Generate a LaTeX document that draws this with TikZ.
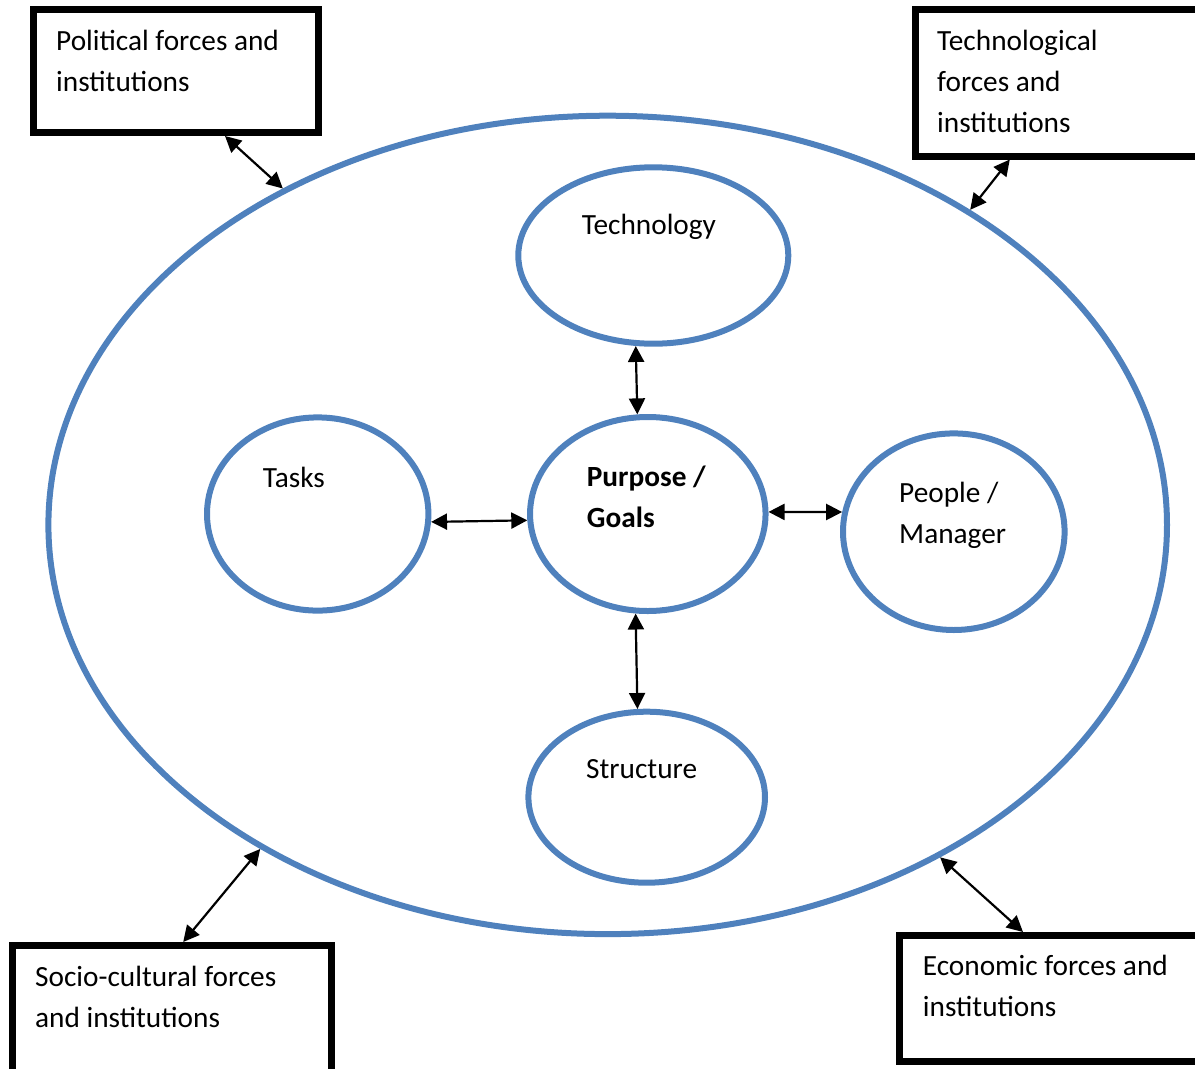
\documentclass[tikz,border=0pt]{standalone}
\usepackage{fontspec}
\setmainfont{Carlito}
\usetikzlibrary{arrows.meta,shapes.geometric}
\definecolor{ringblue}{RGB}{79,129,189}

\tikzset{
  ring/.style={ellipse, draw=ringblue, line width=6pt, inner sep=0pt},
  forcebox/.style={rectangle, draw, line width=7pt, inner sep=0pt},
  % multi-line texts sit on the baseline of their last line
  txt/.style={font=\fontsize{29.3}{41}\selectfont, inner sep=0pt, align=left, anchor=base west},
  link/.style={{Triangle[length=16pt,width=16pt]}-{Triangle[length=16pt,width=16pt]}, line width=2.2pt}
}

\begin{document}
\begin{tikzpicture}[x=1pt,y=-1pt,line join=miter]
  \useasboundingbox (0,0) rectangle (1195,1069);
  \clip (0,0) rectangle (1195,1069);

  % the environment and the inner elements
  \node[ring, minimum width=1118.6pt, minimum height=818.4pt] (env) at (607.7,524.9) {};
  \node[ring, minimum width=270pt, minimum height=176.4pt] (tech) at (653.3,255.5) {};
  \node[ring, minimum width=221.4pt, minimum height=193.2pt] (tasks) at (317.7,514) {};
  \node[ring, minimum width=235.5pt, minimum height=194pt] (goal) at (647.8,514) {};
  \node[ring, minimum width=221.6pt, minimum height=196.6pt] (people) at (953.8,531.7) {};
  \node[ring, minimum width=236.6pt, minimum height=171pt] (struct) at (646.7,797.2) {};

  \node[txt] (techtxt) at (581.7,234.3) {Technology};
  \node[txt] (taskstxt) at (262.7,487.3) {Tasks};
  \node[txt, font=\fontsize{29.3}{41}\selectfont\bfseries] (goaltxt) at (586.7,527.2) {Purpose /\\Goals};
  \node[txt] (peopletxt) at (899,543.8) {People /\\Manager};
  \node[txt] (structtxt) at (586,778.3) {Structure};

  % outside forces
  \node[forcebox, minimum width=285pt, minimum height=123pt] (pol) at (176,71) {};
  \node[forcebox, minimum width=314.7pt, minimum height=146.5pt] (techbox) at (1072.65,82.75) {};
  \node[forcebox, minimum width=318.8pt, minimum height=154.5pt] (socio) at (172.1,1022.75) {};
  \node[forcebox, minimum width=331pt, minimum height=126.2pt] (econ) at (1064.5,998.6) {};

  \node[txt] (poltxt) at (56,91) {Political forces and\\institutions};
  \node[txt] (techboxtxt) at (937,132) {Technological\\forces and\\institutions};
  \node[txt] (sociotxt) at (35,1027.5) {Socio-cultural forces\\and institutions};
  \node[txt] (econtxt) at (922.7,1016.5) {Economic forces and\\institutions};

  % two-way links
  \draw[link] (tech.259.7) -- (goal.96.4);
  \draw[link] (tasks.356.5) -- (goal.183.3);
  \draw[link] (goal.1.1) -- (people.170);
  \draw[link] (goal.263.5) -- (struct.96.7);

  \draw[link] ([xshift=195pt]pol.south west) -- (env.134.4);
  \draw[link] ([xshift=98pt]techbox.south west) -- (env.41.35);
  \draw[link] ([xshift=174pt]socio.north west) -- (env.223.75);
  \draw[link] ([xshift=127.5pt]econ.north west) -- (env.315.2);
\end{tikzpicture}
\end{document}
